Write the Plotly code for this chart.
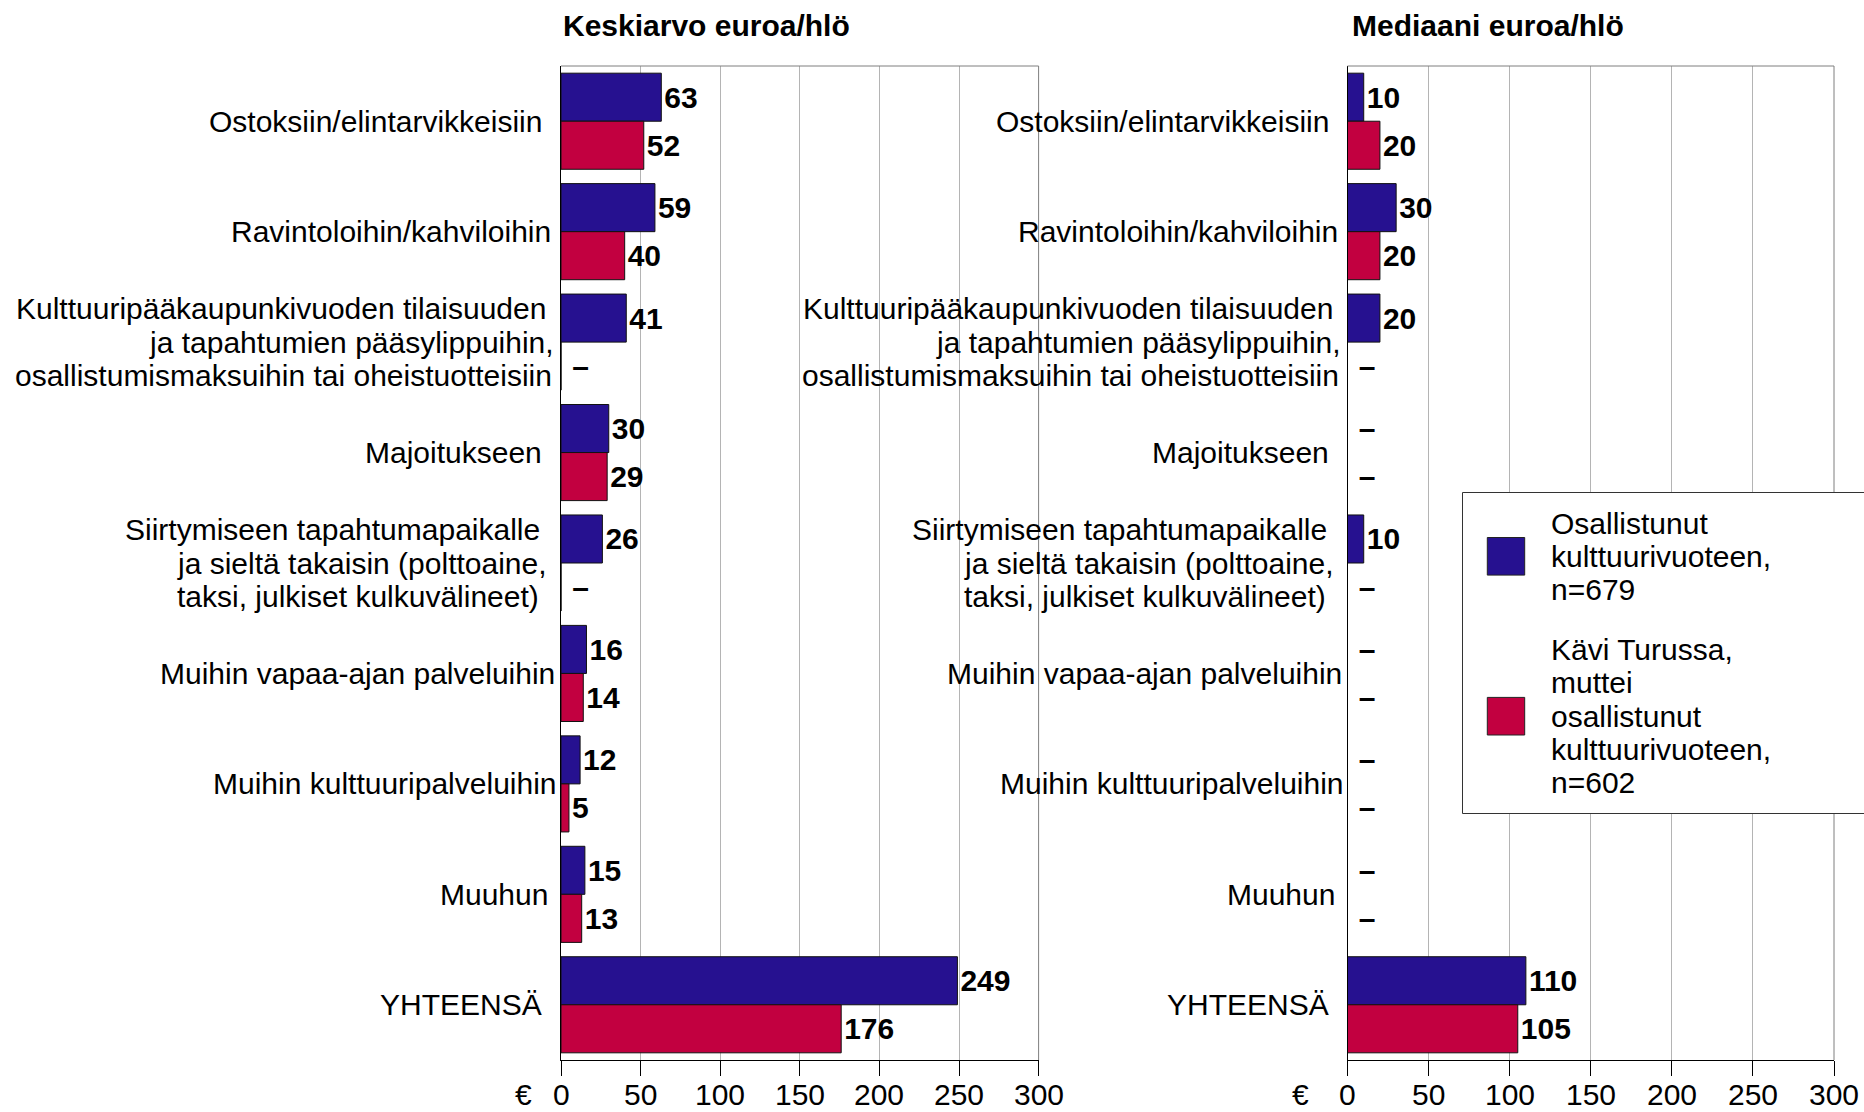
"""Kulttuuripääkaupunkivuosi: rahankäyttö euroa/hlö, keskiarvo ja mediaani."""

import plotly.graph_objects as go

FONT = "Liberation Sans, Arial, sans-serif"
BLUE = "#261190"
RED = "#C20040"

# category labels, one entry per line of text
CATEGORY_LINES = [
    ["Ostoksiin/elintarvikkeisiin"],
    ["Ravintoloihin/kahviloihin"],
    ["Kulttuuripääkaupunkivuoden tilaisuuden",
     "ja tapahtumien pääsylippuihin,",
     "osallistumismaksuihin tai oheistuotteisiin"],
    ["Majoitukseen"],
    ["Siirtymiseen tapahtumapaikalle",
     "ja sieltä takaisin (polttoaine,",
     "taksi, julkiset kulkuvälineet)"],
    ["Muihin vapaa-ajan palveluihin"],
    ["Muihin kulttuuripalveluihin"],
    ["Muuhun"],
    ["YHTEENSÄ"],
]
CATEGORIES = [" ".join(lines) for lines in CATEGORY_LINES]

# None = no value shown ("–")
MEAN_PARTICIPATED = [63, 59, 41, 30, 26, 16, 12, 15, 249]
MEAN_VISITED = [52, 40, None, 29, None, 14, 5, 13, 176]
MEDIAN_PARTICIPATED = [10, 30, 20, None, 10, None, None, None, 110]
MEDIAN_VISITED = [20, 20, None, None, None, None, None, None, 105]

SERIES_NAMES = ["Osallistunut kulttuurivuoteen, n=679",
                "Kävi Turussa, muttei osallistunut kulttuurivuoteen, n=602"]
LEGEND_LINES = [
    ["Osallistunut", "kulttuurivuoteen,", "n=679"],
    ["Kävi Turussa,", "muttei", "osallistunut", "kulttuurivuoteen,", "n=602"],
]
PANEL_TITLES = ["Keskiarvo euroa/hlö", "Mediaani euroa/hlö"]
TICK_VALUES = [0, 50, 100, 150, 200, 250, 300]

# gap (px) between label lines and the axis, per category line
LABEL_GAPS = [[17], [8], [13, 5, 7], [17], [19, 12, 20], [4], [2], [11], [17]]

WIDTH, HEIGHT = 1864, 1112
MARGIN_T, MARGIN_B = 66, 52
PLOT_H = HEIGHT - MARGIN_T - MARGIN_B
LINE_STEP = 33.3
TICK_LABEL_SHIFT = -34


def px_x(x):
    return x / WIDTH


def px_y(y):
    return 1 - (y - MARGIN_T) / PLOT_H


def bar_trace(values, name, color, xaxis, yaxis):
    return go.Bar(
        y=CATEGORIES,
        x=[v if v is not None else 0 for v in values],
        text=[str(v) if v is not None else " –" for v in values],
        orientation="h",
        name=name,
        marker=dict(color=color, line=dict(color="#111111", width=1)),
        textposition="outside",
        constraintext="none",
        cliponaxis=False,
        textfont=dict(family=FONT, size=30, color="black", weight="bold"),
        xaxis=xaxis,
        yaxis=yaxis,
        showlegend=False,
        hoverinfo="skip",
    )


fig = go.Figure()
fig.add_trace(bar_trace(MEAN_PARTICIPATED, SERIES_NAMES[0], BLUE, "x", "y"))
fig.add_trace(bar_trace(MEAN_VISITED, SERIES_NAMES[1], RED, "x", "y"))
fig.add_trace(bar_trace(MEDIAN_PARTICIPATED, SERIES_NAMES[0], BLUE, "x2", "y2"))
fig.add_trace(bar_trace(MEDIAN_VISITED, SERIES_NAMES[1], RED, "x2", "y2"))

x_common = dict(
    range=[0, 300],
    tickvals=TICK_VALUES,
    showticklabels=False,  # drawn as annotations below, closer to the ticks
    showgrid=True,
    gridcolor="#b4b4b4",
    gridwidth=1,
    zeroline=False,
    showline=True,
    linecolor="black",
    linewidth=1,
    ticks="outside",
    ticklen=15,
    tickcolor="black",
    tickwidth=1,
    fixedrange=True,
)
y_common = dict(
    type="category",
    categoryorder="array",
    categoryarray=CATEGORIES,
    range=[len(CATEGORIES) - 0.5, -0.5],
    showticklabels=False,
    showgrid=False,
    zeroline=False,
    showline=True,
    linecolor="black",
    linewidth=1,
    ticks="",
    fixedrange=True,
)

fig.update_layout(
    width=WIDTH,
    height=HEIGHT,
    autosize=False,
    margin=dict(l=0, r=0, t=MARGIN_T, b=MARGIN_B, pad=0),
    paper_bgcolor="white",
    plot_bgcolor="white",
    barmode="group",
    bargap=0.13,
    bargroupgap=0,
    font=dict(family=FONT, size=30, color="black"),
    xaxis=dict(domain=[px_x(561), px_x(1038.6)], anchor="y", **x_common),
    yaxis=dict(domain=[0, 1], anchor="x", **y_common),
    xaxis2=dict(domain=[px_x(1347.5), px_x(1834)], anchor="y2", **x_common),
    yaxis2=dict(domain=[0, 1], anchor="x2", **y_common),
)

annotations = []
shapes = []
for xa, ya, title, title_shift, euro_shift in [
    ("x", "y", PANEL_TITLES[0], 0, -27),
    ("x2", "y2", PANEL_TITLES[1], 2.5, -37),
]:
    # panel title
    annotations.append(dict(
        text=title, xref=f"{xa} domain", x=0, xanchor="left", xshift=title_shift,
        yref="paper", y=1, yanchor="middle", yshift=MARGIN_T - 25,
        showarrow=False, font=dict(family=FONT, size=30, weight="bold"),
    ))
    # euro sign next to the tick labels
    annotations.append(dict(
        text="€", xref=xa, x=0, xanchor="right", xshift=euro_shift,
        yref="paper", y=0, yanchor="middle", yshift=TICK_LABEL_SHIFT,
        showarrow=False, font=dict(family=FONT, size=30),
    ))
    # x tick labels
    for tv in TICK_VALUES:
        annotations.append(dict(
            text=str(tv), xref=xa, x=tv, xanchor="center",
            yref="paper", y=0, yanchor="middle", yshift=TICK_LABEL_SHIFT,
            showarrow=False, font=dict(family=FONT, size=30),
        ))
    # category labels, line by line
    for cat, lines, gaps in zip(CATEGORIES, CATEGORY_LINES, LABEL_GAPS):
        n = len(lines)
        for k, (line, gap) in enumerate(zip(lines, gaps)):
            annotations.append(dict(
                text=line, xref=xa, x=0, xanchor="right", xshift=-gap,
                yref=ya, y=cat, yanchor="middle",
                yshift=-(k - (n - 1) / 2) * LINE_STEP,
                showarrow=False, font=dict(family=FONT, size=30),
            ))
    # grey top and right frame
    for x0, y0, x1, y1 in [(0, 1, 1, 1), (1, 0, 1, 1)]:
        shapes.append(dict(
            type="line", xref=f"{xa} domain", yref=f"{ya} domain",
            x0=x0, y0=y0, x1=x1, y1=y1,
            line=dict(color="#7f7f7f", width=1), layer="above",
        ))

# legend box drawn by hand (large swatches, tight line spacing);
# it runs into the right edge of the page, so no right border line
box_left, box_top, box_bottom = px_x(1462.5), px_y(492.5), px_y(813.5)
shapes.append(dict(
    type="rect", xref="paper", yref="paper",
    x0=box_left, x1=1, y0=box_bottom, y1=box_top,
    fillcolor="white", line=dict(width=0), layer="above",
))
for x0, y0, x1, y1 in [(box_left, box_top, 1, box_top),
                       (box_left, box_bottom, 1, box_bottom),
                       (box_left, box_bottom, box_left, box_top)]:
    shapes.append(dict(
        type="line", xref="paper", yref="paper", x0=x0, y0=y0, x1=x1, y1=y1,
        line=dict(color="#333333", width=1), layer="above",
    ))
legend_first_line = [523, 649.6]
legend_swatch_line = [1, 2]
for lines, color, first, sw in zip(LEGEND_LINES, [BLUE, RED], legend_first_line, legend_swatch_line):
    centre = first + sw * LINE_STEP
    shapes.append(dict(
        type="rect", xref="paper", yref="paper",
        x0=px_x(1487.3), x1=px_x(1524.7), y0=px_y(centre + 18.8), y1=px_y(centre - 18.8),
        fillcolor=color, line=dict(color="#222222", width=1), layer="above",
    ))
    for k, line in enumerate(lines):
        annotations.append(dict(
            text=line, xref="paper", x=px_x(1549), xanchor="left",
            yref="paper", y=px_y(first + k * LINE_STEP), yanchor="middle",
            showarrow=False, font=dict(family=FONT, size=30),
        ))

fig.update_layout(annotations=annotations, shapes=shapes)

# drop the page margin and scrollbars so the figure fills the window exactly
fix_page = (
    "document.documentElement.style.margin='0';"
    "document.documentElement.style.overflow='hidden';"
    "document.body.style.margin='0';"
    "document.body.style.overflow='hidden';"
)
fig.write_html("out.html", config={"displayModeBar": False}, post_script=fix_page)
